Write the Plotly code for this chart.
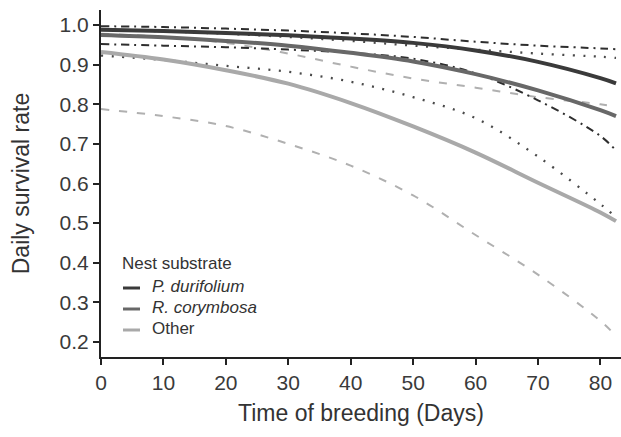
import plotly.graph_objects as go

days = [0, 10, 20, 30, 40, 50, 60, 70, 80, 82.5]

# P. durifolium
pd_fit = [0.988, 0.985, 0.980, 0.974, 0.966, 0.955, 0.936, 0.907, 0.866, 0.853]
pd_hi = [0.997, 0.995, 0.991, 0.986, 0.979, 0.970, 0.958, 0.948, 0.941, 0.939]
pd_lo = [0.952, 0.948, 0.944, 0.938, 0.930, 0.915, 0.878, 0.810, 0.720, 0.683]

# R. corymbosa
rc_fit = [0.975, 0.969, 0.960, 0.948, 0.930, 0.908, 0.876, 0.835, 0.785, 0.770]
rc_hi = [0.988, 0.984, 0.978, 0.970, 0.960, 0.948, 0.938, 0.928, 0.920, 0.917]
rc_lo = [0.923, 0.912, 0.897, 0.882, 0.857, 0.818, 0.765, 0.668, 0.548, 0.515]

# Other
ot_fit = [0.932, 0.913, 0.886, 0.852, 0.803, 0.744, 0.678, 0.602, 0.527, 0.505]
ot_hi = [0.978, 0.970, 0.955, 0.928, 0.895, 0.865, 0.842, 0.818, 0.800, 0.793]
ot_lo = [0.788, 0.770, 0.745, 0.700, 0.645, 0.570, 0.470, 0.370, 0.253, 0.215]

legend_title = "Nest substrate"
names = ["<i>P. durifolium</i>", "<i>R. corymbosa</i>", "Other"]
colors = ["#3a3a3a", "#686868", "#a9a9a9"]

fig = go.Figure()

# confidence bounds
dash_ot = dict(color="#b0b0b0", width=2, dash="8px,10px", shape="spline")
dash_rc = dict(color="#4a4a4a", width=2.3, dash="2px,8.5px", shape="spline")
dash_pd = dict(color="#2e2e2e", width=2, dash="8px,5px,2px,5px", shape="spline")
fig.add_trace(go.Scatter(x=days, y=ot_hi, mode="lines", line=dash_ot, showlegend=False))
fig.add_trace(go.Scatter(x=days, y=ot_lo, mode="lines", line=dash_ot, showlegend=False))
fig.add_trace(go.Scatter(x=days, y=rc_hi, mode="lines", line=dash_rc, showlegend=False))
fig.add_trace(go.Scatter(x=days, y=rc_lo, mode="lines", line=dash_rc, showlegend=False))
fig.add_trace(go.Scatter(x=days, y=pd_hi, mode="lines", line=dash_pd, showlegend=False))
fig.add_trace(go.Scatter(x=days, y=pd_lo, mode="lines", line=dash_pd, showlegend=False))

# fitted lines
fig.add_trace(go.Scatter(x=days, y=ot_fit, mode="lines", name=names[2], line=dict(color=colors[2], width=4, shape="spline"), showlegend=False))
fig.add_trace(go.Scatter(x=days, y=rc_fit, mode="lines", name=names[1], line=dict(color=colors[1], width=4, shape="spline"), showlegend=False))
fig.add_trace(go.Scatter(x=days, y=pd_fit, mode="lines", name=names[0], line=dict(color=colors[0], width=4, shape="spline"), showlegend=False))

# manual legend (paper coordinates of the plot area: x 101..621 px, y 10..357 px)
def px_x(p):
    return (p - 101) / 520.0

def px_y(p):
    return (357 - p) / 347.0

annotations = [dict(xref="paper", yref="paper", x=px_x(120), y=px_y(263), text=legend_title,
                    showarrow=False, xanchor="left", yanchor="middle",
                    font=dict(size=17, color="#333"))]
shapes = []
for i, (nm, c) in enumerate(zip(names, colors)):
    yy = px_y(288 + i * 21)
    shapes.append(dict(type="line", xref="paper", yref="paper", x0=px_x(123), x1=px_x(140),
                       y0=yy, y1=yy, line=dict(color=c, width=3)))
    annotations.append(dict(xref="paper", yref="paper", x=px_x(150), y=yy + 1.5 / 347, text=nm,
                            showarrow=False, xanchor="left", yanchor="middle",
                            font=dict(size=17, color="#333")))

fig.update_layout(
    width=621, height=437,
    margin=dict(l=101, r=0, t=10, b=80),
    paper_bgcolor="white", plot_bgcolor="white",
    font=dict(family="Liberation Sans, Arial, sans-serif", color="#333333"),
    showlegend=False,
    annotations=annotations,
    shapes=shapes,
    xaxis=dict(
        range=[0, 83.3], tickvals=[0, 10, 20, 30, 40, 50, 60, 70, 80],
        showgrid=False, zeroline=False, showline=True, linecolor="#222", linewidth=2,
        ticks="outside", ticklen=6, tickwidth=2, tickcolor="#222",
        tickfont=dict(size=21, color="#3a3a3a"),
        title=dict(text="Time of breeding (Days)", font=dict(size=23, color="#333"), standoff=12),
    ),
    yaxis=dict(
        range=[0.162, 1.038], tickvals=[0.2, 0.3, 0.4, 0.5, 0.6, 0.7, 0.8, 0.9, 1.0],
        tickformat=".1f",
        showgrid=False, zeroline=False, showline=True, linecolor="#222", linewidth=2,
        ticks="outside", ticklen=6, tickwidth=2, tickcolor="#222",
        tickfont=dict(size=21, color="#3a3a3a"),
        title=dict(text="Daily survival rate", font=dict(size=23, color="#333"), standoff=24),
    ),
)

fig.write_html("out.html")
